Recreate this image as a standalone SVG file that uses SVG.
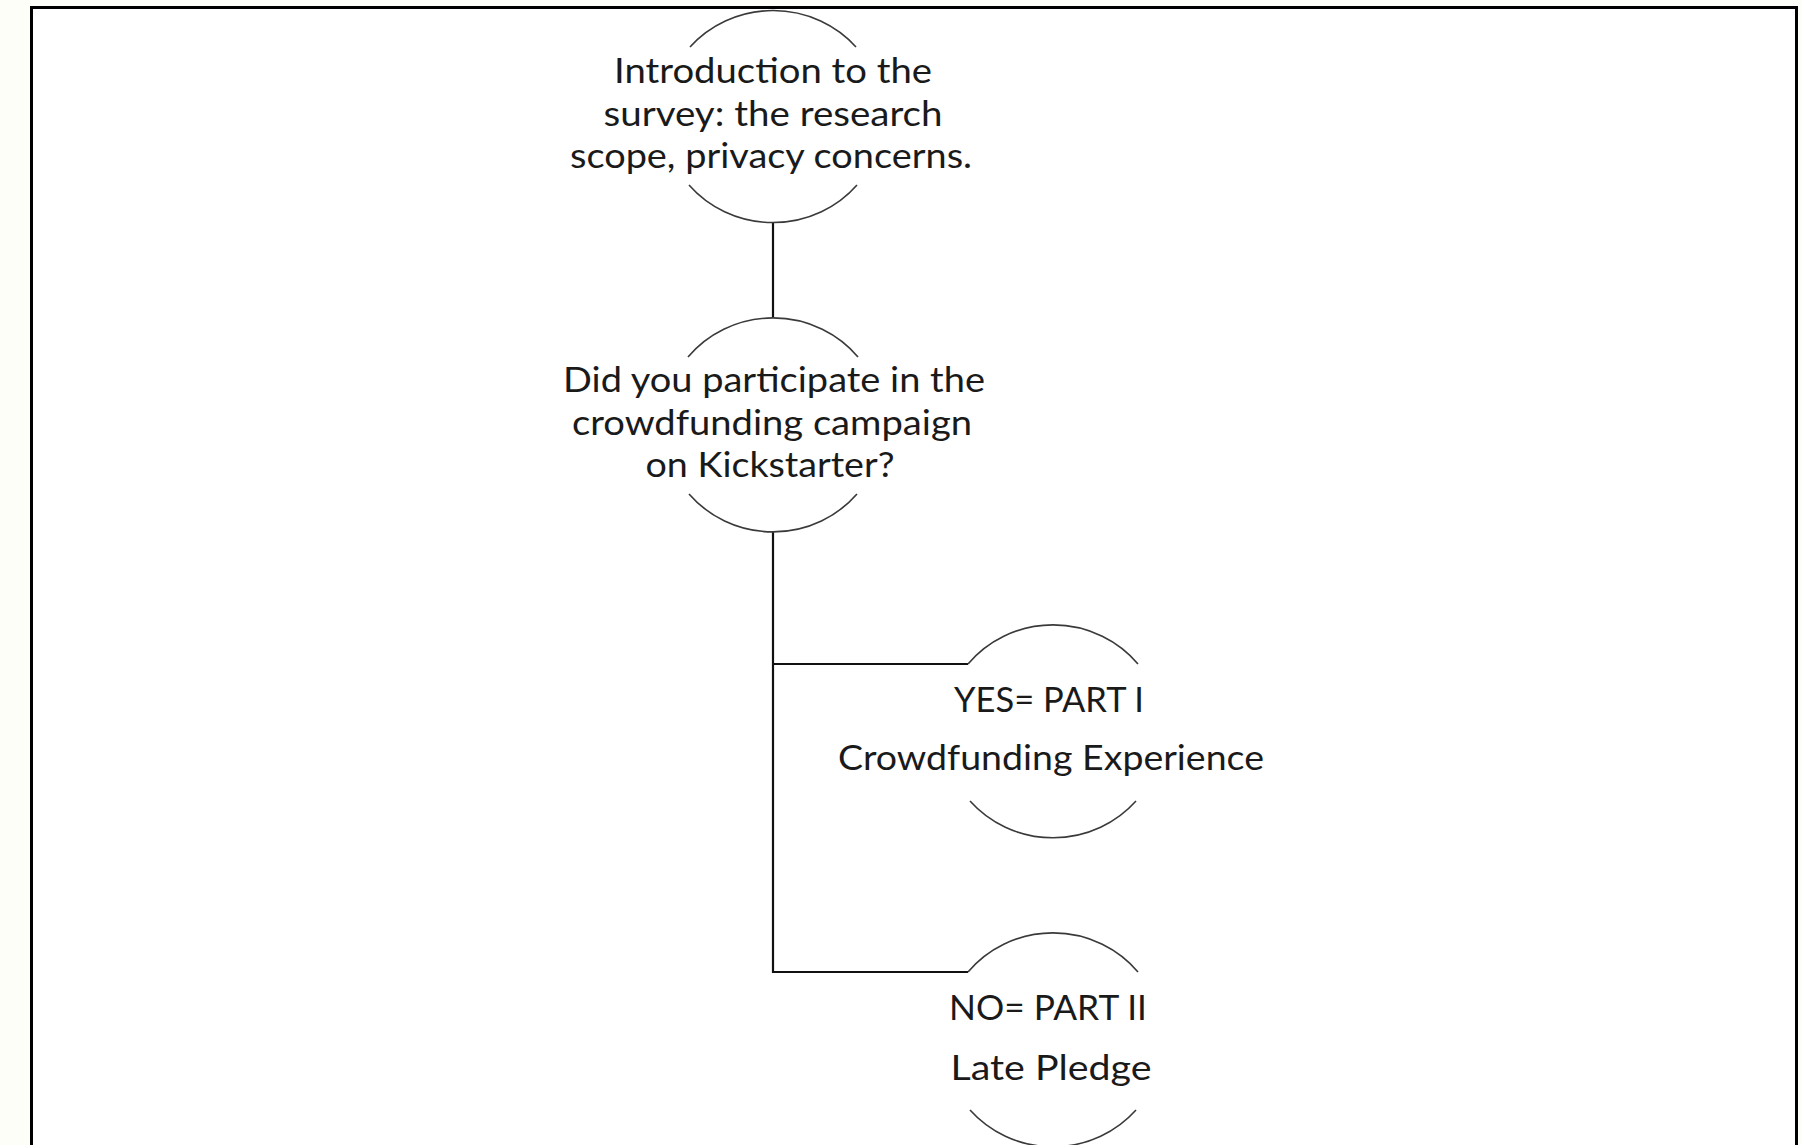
<svg xmlns="http://www.w3.org/2000/svg" width="1802" height="1145" viewBox="0 0 1802 1145">
  <style>
    .arc { fill: none; stroke: #3a3a3a; stroke-width: 1.6; }
    .conn { fill: none; stroke: #111; stroke-width: 2.2; }
    .lbl { font-family: Lato, "Liberation Sans", sans-serif; font-size: 35px; fill: #1a1a1a; text-anchor: middle; }
  </style>
  <rect x="0" y="0" width="1802" height="1145" fill="#fefef9"/>
  <rect x="31.5" y="7.5" width="1765" height="1200" fill="#ffffff" stroke="#000" stroke-width="3"/>

  <g id="connectors">
    <line class="conn" x1="773" y1="223" x2="773" y2="318"/>
    <polyline class="conn" points="773,532 773,972 968,972"/>
    <line class="conn" x1="773" y1="664" x2="968" y2="664"/>
  </g>

  <g id="node-intro">
    <path class="arc" d="M 690 47 A 110 106 0 0 1 856 47"/>
    <path class="arc" d="M 689 185 A 110 106 0 0 0 857 185"/>
    <text class="lbl" x="773" y="83" textLength="318" lengthAdjust="spacingAndGlyphs">Introduction to the</text>
    <text class="lbl" x="773" y="126" textLength="339" lengthAdjust="spacingAndGlyphs">survey: the research</text>
    <text class="lbl" x="771" y="168" textLength="402" lengthAdjust="spacingAndGlyphs">scope, privacy concerns.</text>
  </g>

  <g id="node-question">
    <path class="arc" d="M 688 357 A 110 107 0 0 1 858 357"/>
    <path class="arc" d="M 689 494 A 110 107 0 0 0 857 494"/>
    <text class="lbl" x="774" y="392" textLength="422" lengthAdjust="spacingAndGlyphs">Did you participate in the</text>
    <text class="lbl" x="772" y="435" textLength="400" lengthAdjust="spacingAndGlyphs">crowdfunding campaign</text>
    <text class="lbl" x="770" y="477" textLength="249" lengthAdjust="spacingAndGlyphs">on Kickstarter?</text>
  </g>

  <g id="node-yes">
    <path class="arc" d="M 968 664 A 110 107 0 0 1 1138 664"/>
    <path class="arc" d="M 970 801 A 110 107 0 0 0 1136 801"/>
    <text class="lbl" x="1049" y="712" textLength="190" lengthAdjust="spacingAndGlyphs">YES= PART I</text>
    <text class="lbl" x="1051" y="770" textLength="426" lengthAdjust="spacingAndGlyphs">Crowdfunding Experience</text>
  </g>

  <g id="node-no">
    <path class="arc" d="M 968 972 A 110 107 0 0 1 1138 972"/>
    <path class="arc" d="M 970 1110 A 110 107 0 0 0 1136 1110"/>
    <text class="lbl" x="1048" y="1020" textLength="198" lengthAdjust="spacingAndGlyphs">NO= PART II</text>
    <text class="lbl" x="1051" y="1080" textLength="201" lengthAdjust="spacingAndGlyphs">Late Pledge</text>
  </g>
</svg>
